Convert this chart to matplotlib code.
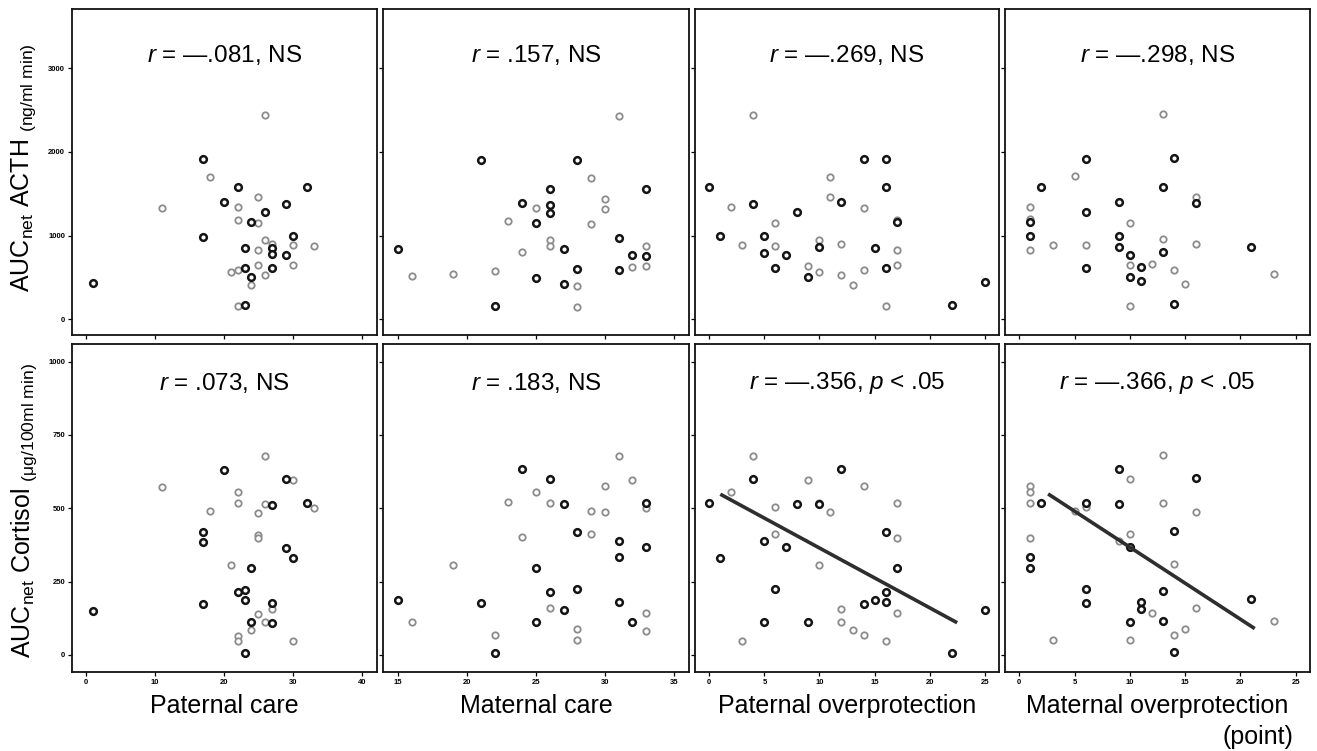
import numpy as np
import matplotlib
matplotlib.use("Agg")
import matplotlib.pyplot as plt

plt.rcParams['font.family'] = ['Liberation Sans', 'DejaVu Sans']
plt.rcParams['mathtext.fontset'] = 'custom'
plt.rcParams['mathtext.rm'] = 'Liberation Sans'
plt.rcParams['mathtext.it'] = 'Liberation Sans:italic'

# --- data: x score, AUC value, 1 = dark marker / 0 = grey marker ---
# Paternal care
pc_x_acth = [26, 17, 18, 11, 22, 32, 20, 22, 25, 26, 29, 22, 24, 25, 17, 30, 26, 27, 30,
             33, 23, 25, 27, 27, 29, 25, 30, 23, 27, 21, 22, 26, 24, 24, 1, 22, 23]
pc_acth = [2446, 1919, 1704, 1325, 1580, 1580, 1397, 1341, 1456, 1281, 1380, 1189, 1157,
           1145, 985, 989, 942, 894, 882, 878, 846, 822, 850, 778, 762, 650, 642, 610, 610,
           559, 583, 527, 499, 407, 431, 156, 168]
pc_acth_dark = [0, 1, 0, 0, 1, 1, 1, 0, 0, 1, 1, 0, 1, 0, 1, 1, 0, 0, 0,
                0, 1, 0, 1, 1, 1, 0, 0, 1, 1, 0, 0, 0, 1, 0, 1, 0, 1]

pc_x_cort = [26, 20, 29, 30, 11, 22, 22, 26, 27, 32, 33, 18, 25, 17, 17, 25, 25, 29, 30,
             21, 24, 22, 23, 23, 17, 27, 27, 25, 24, 26, 27, 24, 22, 22, 30, 23, 1]
pc_cort = [677, 632, 599, 596, 574, 554, 518, 515, 512, 519, 502, 490, 485, 418, 386, 409,
           398, 366, 331, 307, 295, 215, 223, 187, 174, 177, 156, 141, 111, 111, 110, 85,
           66, 48, 49, 6, 151]
pc_cort_dark = [0, 1, 1, 0, 0, 0, 0, 0, 1, 1, 0, 0, 0, 1, 1, 0, 0, 1, 1,
                0, 1, 1, 1, 1, 1, 1, 0, 0, 1, 0, 1, 0, 0, 0, 0, 1, 1]

# Maternal care
mc_x_acth = [31, 21, 28, 29, 26, 24, 25, 26, 26, 30, 30, 23, 25, 29, 31, 26, 26, 27, 24,
             15, 16, 19, 22, 25, 28, 27, 28, 31, 22, 28, 33, 33, 32, 33, 32, 33]
mc_acth = [2434, 1903, 1903, 1688, 1560, 1385, 1325, 1369, 1269, 1440, 1321, 1177, 1145,
           1133, 974, 942, 878, 842, 806, 834, 511, 543, 571, 487, 599, 423, 399, 591, 156,
           144, 1560, 870, 770, 750, 622, 638]
mc_acth_dark = [0, 1, 1, 0, 1, 1, 0, 1, 1, 0, 0, 0, 1, 0, 1, 0, 0, 1, 0,
                1, 0, 0, 0, 1, 1, 1, 0, 1, 1, 0, 1, 0, 1, 1, 0, 0]

mc_x_cort = [31, 24, 26, 30, 25, 23, 26, 27, 29, 30, 28, 29, 24, 31, 31, 19, 25, 26, 28,
             15, 21, 31, 26, 27, 16, 25, 28, 22, 28, 22, 32, 33, 33, 33, 32, 33, 33]
mc_cort = [679, 633, 601, 577, 555, 520, 517, 513, 491, 487, 420, 412, 401, 387, 333, 308,
           298, 216, 225, 189, 176, 179, 159, 154, 114, 114, 89, 67, 51, 8, 596, 519, 502,
           367, 112, 142, 81]
mc_cort_dark = [0, 1, 1, 0, 0, 0, 0, 1, 0, 0, 1, 0, 0, 1, 1, 0, 1, 1, 1,
                1, 1, 1, 0, 1, 0, 1, 0, 0, 0, 1, 0, 1, 0, 1, 1, 0, 0]

# Paternal overprotection
po_x_acth = [4, 14, 16, 0, 11, 11, 16, 2, 4, 12, 14, 8, 6, 1, 5, 3, 6, 10, 10, 12, 5, 7,
             15, 6, 9, 9, 10, 12, 13, 14, 16, 16, 17, 17, 17, 17, 22, 25]
po_acth = [2446, 1919, 1919, 1576, 1700, 1456, 1580, 1345, 1380, 1397, 1333, 1281, 1149,
           989, 989, 886, 878, 942, 862, 898, 790, 770, 850, 614, 638, 499, 559, 527, 407,
           591, 610, 160, 1189, 1165, 830, 650, 172, 443]
po_acth_dark = [0, 1, 1, 1, 0, 0, 1, 0, 1, 1, 0, 1, 0, 1, 1, 0, 0, 0, 1, 0, 1, 1,
                1, 1, 0, 1, 0, 0, 0, 0, 1, 0, 0, 1, 0, 0, 1, 1]

po_x_cort = [4, 12, 4, 9, 14, 2, 0, 6, 8, 10, 10, 11, 16, 6, 5, 7, 1, 10, 6, 16, 15, 14,
             16, 12, 5, 9, 12, 13, 14, 3, 16, 17, 17, 17, 17, 22, 25]
po_cort = [678, 633, 600, 596, 577, 555, 519, 503, 516, 519, 513, 487, 420, 411, 387, 367,
           331, 308, 224, 216, 187, 175, 179, 158, 112, 112, 112, 86, 67, 49, 49, 519, 400,
           298, 142, 8, 153]
po_cort_dark = [0, 1, 1, 0, 0, 0, 1, 0, 1, 0, 1, 0, 1, 0, 1, 1, 1, 0, 1, 1, 1, 1,
                1, 0, 1, 1, 0, 0, 0, 0, 0, 0, 0, 1, 0, 1, 1]
po_fit_x = [1, 22.5]
po_fit_y = [548, 110]

# Maternal overprotection
mo_x_acth = [13, 6, 2, 5, 13, 9, 1, 1, 1, 6, 10, 1, 9, 1, 3, 6, 9, 10, 13, 13, 10, 11,
             12, 6, 10, 11, 10, 14, 16, 16, 16, 14, 15, 14, 21, 23]
mo_acth = [2458, 1919, 1580, 1708, 1580, 1400, 1337, 1197, 1157, 1281, 1149, 989, 989, 830,
           890, 882, 858, 770, 958, 802, 642, 618, 658, 614, 503, 451, 160, 1923, 1460,
           1385, 902, 583, 419, 180, 858, 535]
mo_acth_dark = [0, 1, 1, 0, 1, 1, 0, 0, 1, 1, 0, 1, 1, 0, 0, 0, 1, 1, 0, 1, 0, 1,
                0, 1, 1, 1, 0, 1, 0, 1, 0, 0, 0, 1, 1, 0]

mo_x_cort = [13, 9, 10, 1, 1, 1, 2, 6, 6, 9, 13, 5, 1, 10, 9, 10, 1, 1, 6, 6, 13, 11,
             11, 12, 10, 13, 3, 10, 16, 16, 14, 14, 16, 15, 14, 14, 21, 23]
mo_cort = [683, 634, 599, 577, 555, 519, 519, 519, 503, 515, 519, 492, 400, 412, 388, 369,
           333, 298, 225, 176, 218, 182, 158, 144, 114, 116, 51, 51, 603, 488, 423, 310,
           159, 90, 68, 9, 190, 116]
mo_cort_dark = [0, 1, 0, 0, 0, 0, 1, 1, 0, 1, 0, 0, 0, 0, 0, 1, 1, 1, 1, 1, 1, 1,
                1, 0, 1, 1, 0, 0, 1, 0, 1, 0, 0, 0, 0, 1, 1, 0]
mo_fit_x = [2.6, 21.3]
mo_fit_y = [549, 90]

x_labels = ['Paternal care', 'Maternal care', 'Paternal overprotection', 'Maternal overprotection']
r_acth = [r'$\mathit{r}$ = —.081, NS', r'$\mathit{r}$ = .157, NS',
          r'$\mathit{r}$ = —.269, NS', r'$\mathit{r}$ = —.298, NS']
r_cort = [r'$\mathit{r}$ = .073, NS', r'$\mathit{r}$ = .183, NS',
          r'$\mathit{r}$ = —.356, $\mathit{p}$ < .05', r'$\mathit{r}$ = —.366, $\mathit{p}$ < .05']

x_lims = [(-2, 42.2), (13.9, 36.1), (-1.3, 26.3), (-1.3, 26.3)]
x_ticks = [[0, 10, 20, 30, 40], [15, 20, 25, 30, 35], [0, 5, 10, 15, 20, 25], [0, 5, 10, 15, 20, 25]]

top_data = [(pc_x_acth, pc_acth, pc_acth_dark), (mc_x_acth, mc_acth, mc_acth_dark),
            (po_x_acth, po_acth, po_acth_dark), (mo_x_acth, mo_acth, mo_acth_dark)]
bot_data = [(pc_x_cort, pc_cort, pc_cort_dark), (mc_x_cort, mc_cort, mc_cort_dark),
            (po_x_cort, po_cort, po_cort_dark), (mo_x_cort, mo_cort, mo_cort_dark)]
fits = [None, None, (po_fit_x, po_fit_y), (mo_fit_x, mo_fit_y)]

W, H = 1317, 751
fig = plt.figure(figsize=(W / 100, H / 100), dpi=100)

col_left = [72, 383, 695, 1005]
col_w = [305, 306, 304, 305]
rows = [(9, 335), (344, 672)]


def draw_points(ax, xs, ys, dark):
    xs, ys, dark = np.array(xs), np.array(ys), np.array(dark)
    g = dark == 0
    ax.plot(xs[g], ys[g], 'o', ms=4.6, mfc='white', mec='#8c8c8c', mew=1.3, ls='none')
    ax.plot(xs[~g], ys[~g], 'o', ms=4.8, mfc='white', mec='#141414', mew=1.8, ls='none')


for row, (top, bottom) in enumerate(rows):
    for c in range(4):
        ax = fig.add_axes([col_left[c] / W, 1 - bottom / H, col_w[c] / W, (bottom - top) / H])
        xs, ys, dark = (top_data if row == 0 else bot_data)[c]
        draw_points(ax, xs, ys, dark)
        if row == 1 and fits[c] is not None:
            ax.plot(fits[c][0], fits[c][1], color='#2e2e2e', lw=2.6, solid_capstyle='butt')
        ax.set_xlim(*x_lims[c])
        ax.set_xticks(x_ticks[c])
        if row == 0:
            ax.set_ylim(-190, 3710)
            ax.set_yticks([0, 1000, 2000, 3000])
            ax.set_xticklabels([])
            txt = r_acth[c]
            ty = 0.86
        else:
            ax.set_ylim(-58, 1060)
            ax.set_yticks([0, 250, 500, 750, 1000])
            txt = r_cort[c]
            ty = 0.88
            ax.set_xlabel(x_labels[c], fontsize=18, labelpad=6)
        if c > 0:
            ax.set_yticklabels([])
        ax.text(0.5, ty, txt, transform=ax.transAxes, ha='center', va='center', fontsize=17.5)
        ax.tick_params(direction='out', length=3, width=0.9, labelsize=5.5, pad=2)
        for lab in ax.get_xticklabels() + ax.get_yticklabels():
            lab.set_fontweight('bold')
        for sp in ax.spines.values():
            sp.set_linewidth(1.3)
            sp.set_color('#111111')

fig.text(1293 / W, 1 - 737 / H, '(point)', ha='right', va='center', fontsize=18)
fig.text(24 / W, 1 - 168 / H, r'AUC$_{\rm net}$ ACTH $_{\rm (ng/ml\ min)}$',
         rotation=90, ha='center', va='center', fontsize=18)
fig.text(24 / W, 1 - 510 / H, r'AUC$_{\rm net}$ Cortisol $_{\rm (\mu g/100ml\ min)}$',
         rotation=90, ha='center', va='center', fontsize=18)

fig.savefig('out.png', dpi=100)
